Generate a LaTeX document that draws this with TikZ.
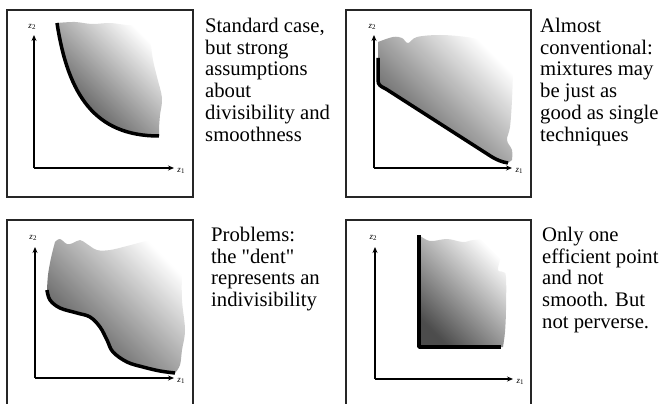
\documentclass[tikz,border=0pt]{standalone}
\usepackage{fontspec}
\setmainfont{Liberation Serif}
\usetikzlibrary{arrows.meta}
\newcommand{\firstline}{\rule{0pt}{15pt}}
\begin{document}
\begin{tikzpicture}[x=1pt,y=-1pt,
  panelbox/.style={draw=black!85, line width=1.2pt},
  axisline/.style={line width=1.6pt, -{Stealth[length=6pt,width=5pt]}},
  frontier/.style={line width=3.5pt, line join=round},
  region/.style={top color=white, bottom color=black!70, shading angle=-45},
  desc/.style={anchor=north west, align=left, inner sep=0pt, font=\fontsize{20.7}{21.8}\selectfont},
  zlab/.style={inner sep=0pt, font=\fontsize{9}{9}\selectfont}
]
\useasboundingbox (0,0) rectangle (665,404);

% ---------- Panel 1 ----------
\draw[panelbox] (7,10) rectangle (193,197);
\shade[region] (159,136) .. controls (95,136) and (68,95) .. (57,23)
  -- plot[smooth, tension=0.6] coordinates {(57,23) (75,22) (92,24) (110,23) (127,25) (140,25) (149,28)}
  -- plot[smooth, tension=0.6] coordinates {(149,28) (151,45) (153,60) (157,77) (162,98) (160,115) (159,128)}
  -- (159,136) -- cycle;
\draw[frontier] (57,23) .. controls (68,95) and (95,136) .. (159,136);
\coordinate (o1) at (34,168);
\coordinate (y1) at (34,35);
\coordinate (x1) at (174,168);
\draw[axisline] (o1) -- (y1);
\draw[axisline] (o1) -- (x1);
\node[zlab] (z2a) at (32,27) {\textit{z}\raisebox{-1.5pt}{\scriptsize 2}};
\node[zlab] (z1a) at (181,171) {\textit{z}\raisebox{-1.5pt}{\scriptsize 1}};
\node[desc] (t1) at (205,17) {\firstline Standard case,\\but strong\\assumptions\\about\\divisibility and\\smoothness};

% ---------- Panel 2 ----------
\draw[panelbox] (346,10) rectangle (531,197);
\shade[region] (378,80) -- (378,42)
  -- plot[smooth, tension=0.6] coordinates {(378,42) (393,37) (402,38) (408,43) (417,37) (440,35) (467,37) (487,41) (500,38) (512,42)}
  -- plot[smooth, tension=0.6] coordinates {(512,42) (513,67) (512,100) (510,127) (507,140) (512,150) (512,160)}
  -- (508,163) .. controls (502,162) and (497,160) .. (492,157) -- (386,89)
  .. controls (380,86) and (378,85) .. (378,80) -- cycle;
\draw[frontier] (378,58) -- (378,80) .. controls (378,85) and (380,86) .. (386,89) -- (492,157) .. controls (497,160) and (502,162) .. (508,163);
\coordinate (o2) at (374,168);
\coordinate (y2) at (374,35);
\coordinate (x2) at (512,168);
\draw[axisline] (o2) -- (y2);
\draw[axisline] (o2) -- (x2);
\node[zlab] (z2b) at (372,27) {\textit{z}\raisebox{-1.5pt}{\scriptsize 2}};
\node[zlab] (z1b) at (519,171) {\textit{z}\raisebox{-1.5pt}{\scriptsize 1}};
\node[desc] (t2) at (540,17) {\firstline Almost\\conventional:\\mixtures may\\be just as\\good as single\\techniques};

% ---------- Panel 3 ----------
\draw[panelbox] (7,220) rectangle (193,410);
\shade[region] (47,290)
  -- plot[smooth, tension=0.6] coordinates {(47,290) (48,275) (51,258) (55,242)}
  -- plot[smooth, tension=0.6] coordinates {(55,242) (60,239) (67,244) (73,243) (80,240) (87,244) (97,250) (110,250) (127,246) (150,240) (167,237) (178,238) (183,243)}
  -- plot[smooth, tension=0.6] coordinates {(183,243) (182,270) (182,300) (185,330) (182,350) (180,365) (175,373)}
  -- plot[smooth, tension=0.6] coordinates {(175,373) (160,371) (143,367) (127,362) (113,352) (107,340) (100,327) (90,317) (77,313) (60,308) (50,300) (47,290)}
  -- cycle;
\draw[frontier] plot[smooth, tension=0.6] coordinates {(47,290) (50,300) (60,308) (77,313) (90,317) (100,327) (107,340) (113,352) (127,362) (143,367) (160,371) (175,373)};
\coordinate (o3) at (35,378);
\coordinate (y3) at (35,247);
\coordinate (x3) at (174,378);
\draw[axisline] (o3) -- (y3);
\draw[axisline] (o3) -- (x3);
\node[zlab] (z2c) at (33,238) {\textit{z}\raisebox{-1.5pt}{\scriptsize 2}};
\node[zlab] (z1c) at (181,381) {\textit{z}\raisebox{-1.5pt}{\scriptsize 1}};
\node[desc] (t3) at (211,226) {\firstline Problems:\\the \textquotedbl dent\textquotedbl\\represents an\\indivisibility};

% ---------- Panel 4 ----------
\draw[panelbox] (346,220) rectangle (531,410);
\shade[region] (419,347) -- (419,235)
  -- plot[smooth, tension=0.6] coordinates {(419,235) (430,241) (447,239) (463,242) (473,240) (490,239) (507,240)}
  -- plot[smooth, tension=0.6] coordinates {(507,240) (498,268) (503,272) (506,277) (506,310) (505,332) (503,347)}
  -- cycle;
\draw[frontier] (419,235) -- (419,347) -- (501,347);
\coordinate (o4) at (375,379);
\coordinate (y4) at (375,247);
\coordinate (x4) at (513,379);
\draw[axisline] (o4) -- (y4);
\draw[axisline] (o4) -- (x4);
\node[zlab] (z2d) at (373,238) {\textit{z}\raisebox{-1.5pt}{\scriptsize 2}};
\node[zlab] (z1d) at (520,382) {\textit{z}\raisebox{-1.5pt}{\scriptsize 1}};
\node[desc] (t4) at (542,226) {\firstline Only one\\efficient point\\and not\\smooth. But\\not perverse.};
\end{tikzpicture}
\end{document}
